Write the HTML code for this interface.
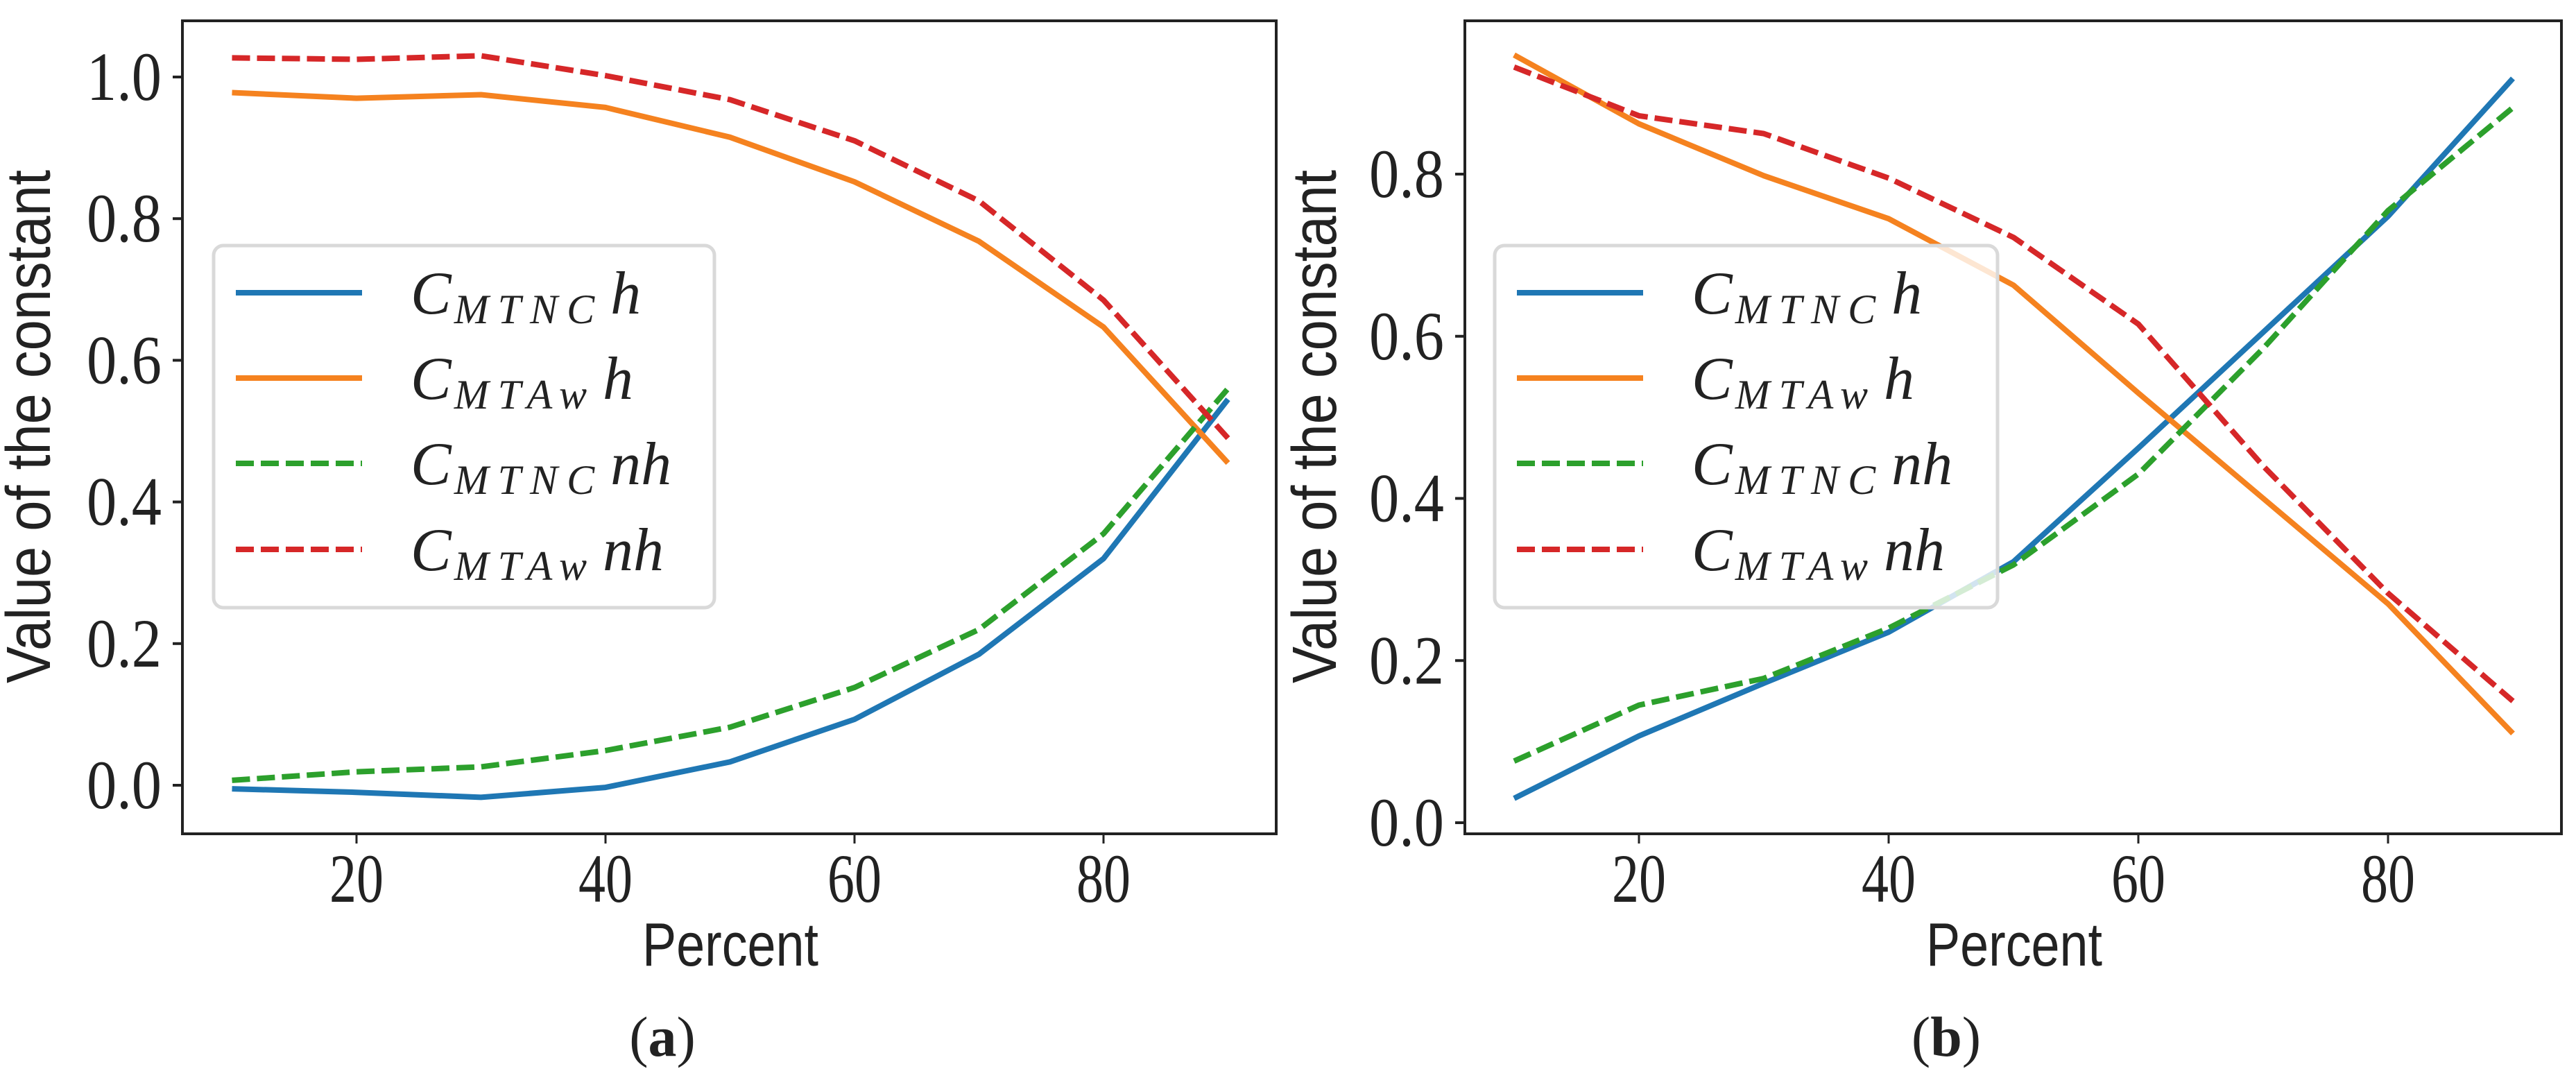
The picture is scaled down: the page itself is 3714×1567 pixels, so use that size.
<!DOCTYPE html>
<html><head><meta charset="utf-8">
<style>html,body{margin:0;padding:0;background:#fff}svg{display:block}</style>
</head><body>
<svg id="fig" width="3714" height="1567" viewBox="0 0 3714 1567" xmlns="http://www.w3.org/2000/svg"></svg>
<script>
// ---- data ----
const percents = [10,20,30,40,50,60,70,80,90];
const aMtncH  = [-0.005,-0.01,-0.017,-0.003,0.033,0.093,0.185,0.32,0.545];
const aMtawH  = [0.978,0.97,0.975,0.957,0.915,0.852,0.768,0.647,0.455];
const aMtncNh = [0.007,0.019,0.026,0.049,0.082,0.138,0.22,0.355,0.56];
const aMtawNh = [1.027,1.025,1.03,1.002,0.968,0.91,0.825,0.685,0.49];
const bMtncH  = [0.03,0.107,0.172,0.235,0.322,0.462,0.605,0.748,0.918];
const bMtawH  = [0.947,0.862,0.798,0.745,0.663,0.53,0.4,0.27,0.11];
const bMtncNh = [0.076,0.145,0.178,0.24,0.318,0.43,0.585,0.755,0.882];
const bMtawNh = [0.932,0.872,0.85,0.795,0.722,0.615,0.44,0.283,0.15];
const xTicks = [20,40,60,80];
const aYTicks = [0.0,0.2,0.4,0.6,0.8,1.0];
const bYTicks = [0.0,0.2,0.4,0.6,0.8];
const legendLabels = [["MTNC","h"],["MTAw","h"],["MTNC","nh"],["MTAw","nh"]];

const NS = "http://www.w3.org/2000/svg";
const svg = document.getElementById('fig');
function mk(tag, attrs, parent){const e=document.createElementNS(NS,tag);for(const k in attrs)e.setAttribute(k,attrs[k]);(parent||svg).appendChild(e);return e;}
const colors=['#1f77b4','#f5821f','#2ca02c','#d62728'];
const dashes=[null,null,'26 10','26 10'];

function panel(p){
  const g=mk('g',{});
  
  
  const sx=v=>p.x20+(v-20)*(p.x80-p.x20)/60;
  const sy=v=>p.y0+(v-0)*(p.yTop-p.y0)/p.yTopVal;
  p.series.forEach((s,i)=>{
    const d=percents.map((x,j)=>(j?'L':'M')+sx(x).toFixed(1)+' '+sy(s[j]).toFixed(1)).join(' ');
    const path=mk('path',{d:d,fill:'none',stroke:colors[i],'stroke-width':8,'stroke-linejoin':'round'},g);
    if(dashes[i])path.setAttribute('stroke-dasharray',dashes[i]);
    
    
  });
  const fr=mk('rect',{x:p.left,y:p.top,width:p.right-p.left,height:p.bottom-p.top,fill:'none',stroke:'#222','stroke-width':4},g);
  
  
  xTicks.forEach(t=>{
    const X=sx(t);
    mk('line',{x1:X,y1:p.bottom,x2:X,y2:p.bottom+14,stroke:'#222','stroke-width':3},g);
    const tx=mk('text',{x:X,y:1300,'text-anchor':'middle','font-family':'Liberation Serif, serif','font-size':100,textLength:78,lengthAdjust:'spacingAndGlyphs',fill:'#222'},g);
    tx.textContent=String(t);
    
    
  });
  p.yTicks.forEach(t=>{
    const Y=sy(t);
    mk('line',{x1:p.left-14,y1:Y,x2:p.left,y2:Y,stroke:'#222','stroke-width':4},g);
    const tx=mk('text',{x:p.left-30,y:Y+33,'text-anchor':'end','font-family':'Liberation Serif, serif','font-size':100,textLength:108,lengthAdjust:'spacingAndGlyphs',fill:'#222'},g);
    tx.textContent=t.toFixed(1);
    
    
  });
  const yl=mk('text',{x:0,y:0,transform:`translate(${p.ylabX},615) rotate(-90)`,'text-anchor':'middle','font-family':'Liberation Sans, sans-serif','font-size':90,textLength:740,lengthAdjust:'spacingAndGlyphs',fill:'#222'},g);
  yl.textContent='Value of the constant';
  
  
  const xl=mk('text',{x:p.xlabX,y:1392,'text-anchor':'middle','font-family':'Liberation Sans, sans-serif','font-size':88,textLength:254,lengthAdjust:'spacingAndGlyphs',fill:'#222'},g);
  xl.textContent='Percent';
  
  
  const cap=mk('text',{x:p.capX,y:1522,'text-anchor':'middle','font-family':'Liberation Serif, serif','font-size':82,fill:'#222'},g);
  cap.innerHTML='(<tspan font-weight="bold">'+p.id+'</tspan>)';
  
  
  const lg=mk('g',{},g);
  
  
  mk('rect',{x:p.legX,y:354,width:p.legW,height:522,rx:14,fill:'rgba(255,255,255,0.8)',stroke:'#d9d9d9','stroke-width':5},lg);
  const ys=[422,545,668,792];
  legendLabels.forEach((lab,i)=>{
    const e=mk('g',{},lg);
    
    
    const ln=mk('line',{x1:p.legX+32,y1:ys[i],x2:p.legX+214,y2:ys[i],stroke:colors[i],'stroke-width':8},e);
    if(dashes[i])ln.setAttribute('stroke-dasharray',dashes[i]);
    const t=mk('text',{x:p.legX+284,y:ys[i]+30,'font-family':'Liberation Serif, serif','font-style':'italic','font-size':88,fill:'#222'},e);
    t.innerHTML='C<tspan font-size="60" dy="14" dx="4" letter-spacing="13">'+lab[0]+'</tspan><tspan dy="-14" dx="10">'+lab[1]+'</tspan>';
  });
}
panel({id:'a',left:263,right:1840,top:30,bottom:1202,x20:514,x80:1591,y0:1132,yTop:111,yTopVal:1.0,yTicks:aYTicks,
  series:[aMtncH,aMtawH,aMtncNh,aMtawNh],ylabX:72,xlabX:1053,capX:955,legX:308,legW:722});
panel({id:'b',left:2112,right:3693,top:30,bottom:1202,x20:2363,x80:3443,y0:1186,yTop:251,yTopVal:0.8,yTicks:bYTicks,
  series:[bMtncH,bMtawH,bMtncNh,bMtawNh],ylabX:1926,xlabX:2904,capX:2806,legX:2155,legW:725});
</script>
</body></html>
